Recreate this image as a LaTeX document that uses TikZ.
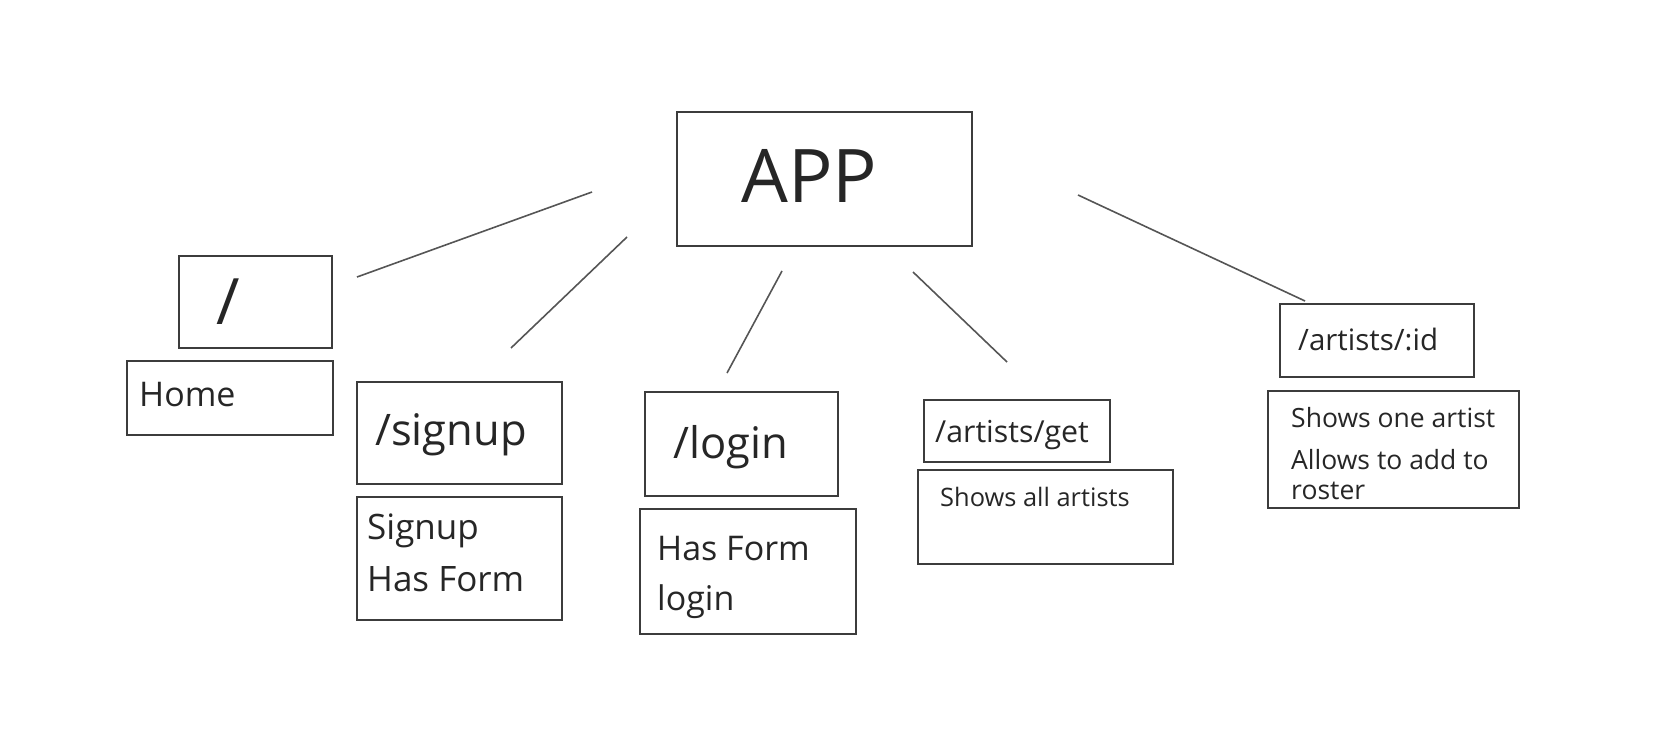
\documentclass[tikz,border=0pt]{standalone}
\usepackage{fontspec}
\setmainfont{Open Sans}
\usetikzlibrary{calc}
\definecolor{boxgray}{HTML}{3C3C3C}
\definecolor{inkgray}{HTML}{262626}
\definecolor{linegray}{HTML}{555555}
\tikzset{
	pg/.style={draw=boxgray,line width=1.5pt,rectangle,inner sep=0pt,anchor=north west},
	tx/.style={text=inkgray,inner sep=0pt,anchor=base west},
	link/.style={draw=linegray,line width=1.6pt}
}
\newcommand{\fs}[1]{\fontsize{#1}{#1}\selectfont}

\begin{document}
\begin{tikzpicture}[x=1pt,y=-1pt]
\useasboundingbox (0,0) rectangle (1680,742);
% boxes
\node[pg,minimum width=295,minimum height=134] (app) at (676,111) {};
\node[pg,minimum width=153,minimum height=92] (root) at (178,255) {};
\node[pg,minimum width=206,minimum height=74] (home) at (126,360) {};
\node[pg,minimum width=205,minimum height=102] (signup) at (356,381) {};
\node[pg,minimum width=205,minimum height=123] (signupinfo) at (356,496) {};
\node[pg,minimum width=193,minimum height=104] (login) at (644,391) {};
\node[pg,minimum width=216,minimum height=125] (logininfo) at (639,508) {};
\node[pg,minimum width=186,minimum height=62] (getall) at (923,399) {};
\node[pg,minimum width=255,minimum height=94] (getallinfo) at (917,469) {};
\node[pg,minimum width=194,minimum height=73] (getone) at (1279,303) {};
\node[pg,minimum width=251,minimum height=117] (getoneinfo) at (1267,390) {};
% texts
\node[tx,font=\fs{74}] (appt) at (741,202) {APP};
\node[tx,font=\fs{64}] (roott) at (216,324) {/};
\node[tx,font=\fs{34}] (homet) at (139,406) {Home};
\node[tx,font=\fs{43.5}] (signupt) at (375,445) {/signup};
\node[tx,font=\fs{35}] (signupa) at (367,539) {Signup};
\node[tx,font=\fs{35}] (signupb) at (367,591) {Has Form};
\node[tx,font=\fs{43.5}] (logint) at (673,458) {/login};
\node[tx,font=\fs{34}] (logina) at (657,560) {Has Form};
\node[tx,font=\fs{34}] (loginb) at (657,610) {login};
\node[tx,font=\fs{30.3}] (getallt) at (935,442) {/artists/get};
\node[tx,font=\fs{25.4}] (getalla) at (940,506) {Shows all artists};
\node[tx,font=\fs{29.5}] (getonet) at (1298,350) {/artists/:id};
\node[tx,font=\fs{26.5}] (getonea) at (1291,427) {Shows one artist};
\node[tx,font=\fs{26.5}] (getoneb) at (1291,469) {Allows to add to};
\node[tx,font=\fs{26.5}] (getonec) at (1291,499) {roster};
% free line ends
\coordinate (l1a) at (592,192); \coordinate (l1b) at (357,277);
\coordinate (l2a) at (627,237); \coordinate (l2b) at (511,348);
\coordinate (l3a) at (782,271); \coordinate (l3b) at (727,373);
\coordinate (l4a) at (913,272); \coordinate (l4b) at (1007,362);
\coordinate (l5a) at (1078,195); \coordinate (l5b) at (1305,301);
\draw[link] (l1a)--(l1b);
\draw[link] (l2a)--(l2b);
\draw[link] (l3a)--(l3b);
\draw[link] (l4a)--(l4b);
\draw[link] (l5a)--(l5b);
\end{tikzpicture}
\end{document}
